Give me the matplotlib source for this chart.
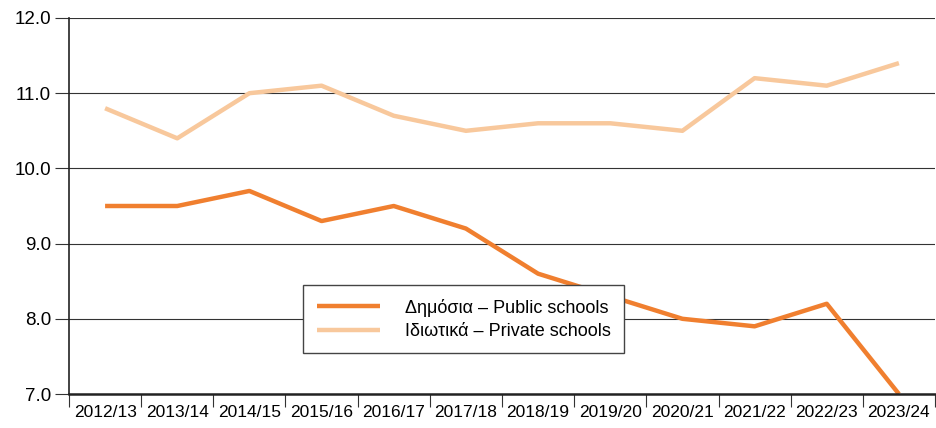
import matplotlib
matplotlib.use("Agg")
import matplotlib.pyplot as plt
import numpy as np

plt.rcParams['font.family'] = ['Liberation Sans', 'DejaVu Sans']

# school years
years = ["2012/13", "2013/14", "2014/15", "2015/16", "2016/17", "2017/18",
         "2018/19", "2019/20", "2020/21", "2021/22", "2022/23", "2023/24"]

# public and private values
public = [9.5, 9.5, 9.7, 9.3, 9.5, 9.2, 8.6, 8.3, 8.0, 7.9, 8.2, 7.0]
private = [10.8, 10.4, 11.0, 11.1, 10.7, 10.5, 10.6, 10.6, 10.5, 11.2, 11.1, 11.4]

pub_color = '#F07F2F'
priv_color = '#F8C89C'

fig = plt.figure(figsize=(9.37, 4.28), dpi=100)
ax = fig.add_axes([69/937, 1-394/428, (935-69)/937, (394-18)/428])

x = np.arange(len(years))
ax.plot(x, public, color=pub_color, lw=3.2, label='Δημόσια – Public schools', solid_capstyle='butt')
ax.plot(x, private, color=priv_color, lw=3.2, label='Ιδιωτικά – Private schools', solid_capstyle='butt')

ax.set_xlim(-0.5, len(years) - 0.5)
ax.set_ylim(7.0, 12.0)
ax.set_yticks(np.arange(7.0, 12.01, 1.0))
ax.set_yticklabels([f"{v:.1f}" for v in np.arange(7.0, 12.01, 1.0)])
ax.grid(axis='y', color='#333333', lw=0.8)
ax.set_axisbelow(True)

# labels centered, tick marks at category boundaries
ax.set_xticks(x)
ax.set_xticklabels(years)
ax.set_xticks(np.arange(-0.5, len(years), 1.0), minor=True)
ax.tick_params(axis='x', which='major', length=0, labelsize=12.5, pad=8)
ax.tick_params(axis='x', which='minor', length=9, width=0.8, color='#333333')
ax.tick_params(axis='y', length=10, width=0.8, color='#333333', labelsize=13.5, pad=3)

for s in ['top', 'right']:
    ax.spines[s].set_visible(False)
ax.spines['left'].set_linewidth(1.2)
ax.spines['bottom'].set_linewidth(1.8)
ax.spines['bottom'].set_color('#222222')
ax.spines['left'].set_color('#222222')

leg = ax.legend(loc='upper left', bbox_to_anchor=((303-69)/866, (394-285)/376),
                fontsize=13, frameon=True, fancybox=False, edgecolor='#444444',
                handlelength=3.5, handletextpad=1.4, borderpad=0.75, labelspacing=0.35,
                borderaxespad=0, framealpha=1)
leg.get_frame().set_linewidth(1.0)

fig.savefig("out.png", dpi=100)
